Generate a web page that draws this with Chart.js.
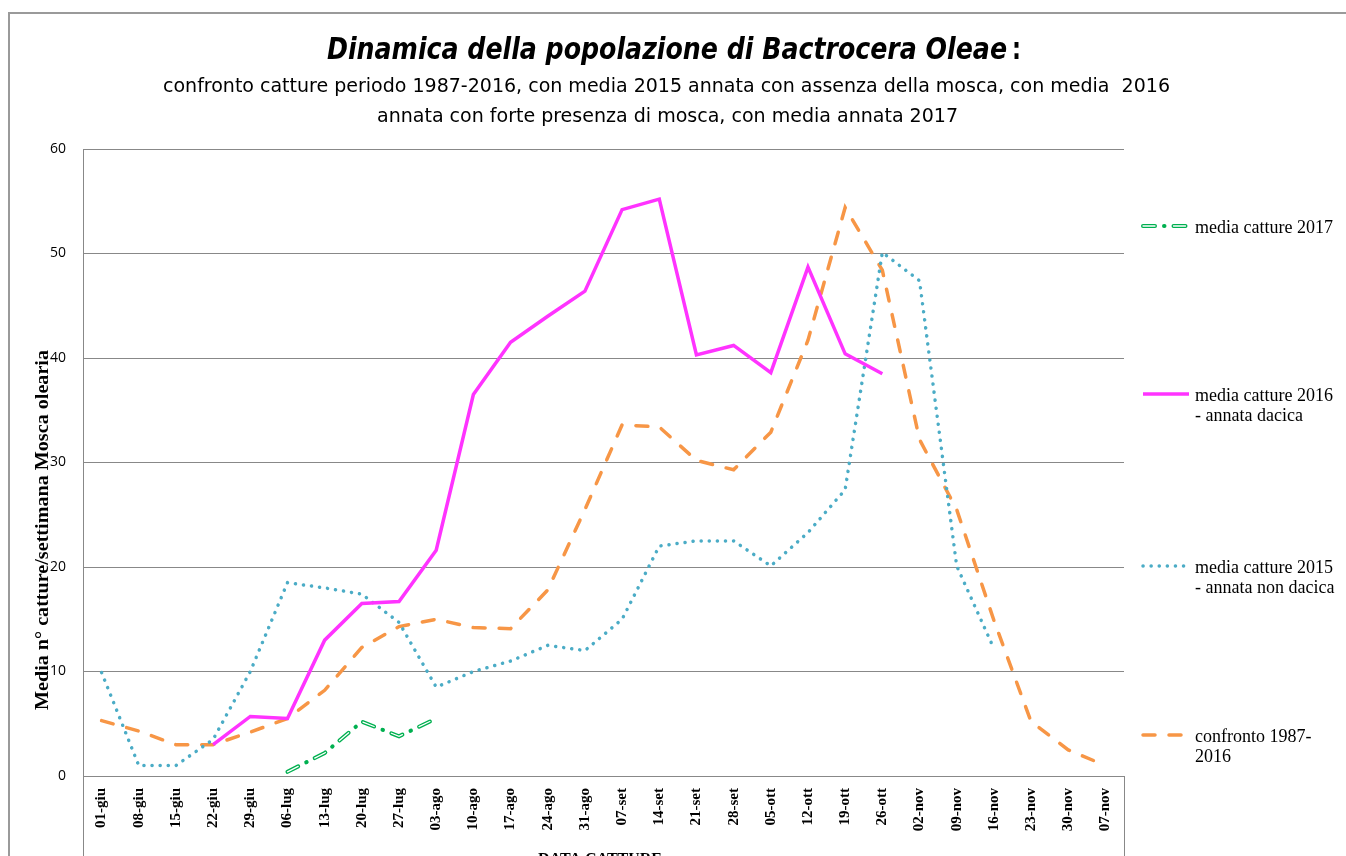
<!DOCTYPE html>
<html>
<head>
<meta charset="utf-8">
<script src="https://cdn.jsdelivr.net/npm/chart.js@4.4.1/dist/chart.umd.min.js"></script>
<style>
  html, body { margin: 0; padding: 0; background: #fff; }
  #wrap { position: relative; width: 1346px; height: 856px; }
</style>
</head>
<body>
<div id="wrap"><canvas id="mosca" width="1346" height="856"></canvas></div>
<script>
// weekly dates (x axis)
var settimane = ['01-giu','08-giu','15-giu','22-giu','29-giu','06-lug','13-lug','20-lug','27-lug',
  '03-ago','10-ago','17-ago','24-ago','31-ago','07-set','14-set','21-set','28-set',
  '05-ott','12-ott','19-ott','26-ott','02-nov','09-nov','16-nov','23-nov','30-nov','07-nov'];

// average catches per week
var media2017 = [null,null,null,null,null,0.4,2.2,5.2,3.8,5.5,
  null,null,null,null,null,null,null,null,null,null,null,null,null,null,null,null,null,null];
var media2016 = [null,null,null,3.0,5.7,5.5,13.0,16.5,16.7,21.6,36.5,41.5,44.0,46.4,54.2,55.2,
  40.3,41.2,38.6,48.7,40.4,38.5,null,null,null,null,null,null];
var media2015 = [9.9,1.0,1.0,3.5,10.0,18.5,18.0,17.4,14.7,8.5,10.0,11.0,12.5,12.0,15.0,22.0,
  22.5,22.5,20.1,23.3,27.4,50.1,47.4,20.1,12.2,null,null,null];
var confronto = [5.3,4.3,3.0,3.0,4.2,5.5,8.2,12.3,14.3,15.0,14.2,14.1,17.8,25.5,33.6,33.4,
  30.2,29.3,32.9,41.7,54.4,48.4,32.2,25.5,14.9,5.2,2.5,1.0];

var yTicks = [0, 10, 20, 30, 40, 50, 60];

var serif = '"Liberation Serif", "DejaVu Serif", serif';
var narrow = '"Liberation Sans Narrow", "DejaVu Sans Condensed", "Open Sans", sans-serif';

// stretch text to a given width (the original uses a narrow font)
function fitText(ctx, text, x, y, w, font) {
  ctx.font = font;
  var m = ctx.measureText(text).width;
  ctx.save();
  ctx.translate(x, y);
  ctx.scale(w / m, 1);
  ctx.textAlign = 'left';
  ctx.fillText(text, 0, 0);
  ctx.restore();
}

function strokeSample(ctx, d, y) {
  ctx.save();
  ctx.strokeStyle = d.borderColor;
  ctx.lineWidth = d.borderWidth;
  ctx.lineCap = d.borderCapStyle || 'butt';
  ctx.setLineDash(d.borderDash || []);
  ctx.beginPath();
  ctx.moveTo(1143, y); ctx.lineTo(1189, y);
  ctx.stroke();
  ctx.restore();
}

// titles, frame, axis titles and the spread-out legend
var decor = {
  id: 'decor',
  afterDraw: function(chart) {
    var ctx = chart.ctx, a = chart.chartArea;
    ctx.save();
    ctx.strokeStyle = '#9a9a9a';
    ctx.lineWidth = 2;
    ctx.beginPath();
    ctx.moveTo(9, 856); ctx.lineTo(9, 13); ctx.lineTo(1346, 13);
    ctx.stroke();

    ctx.strokeStyle = '#888';
    ctx.lineWidth = 1;
    ctx.beginPath();
    ctx.moveTo(a.left + 0.5, a.bottom); ctx.lineTo(a.left + 0.5, 856);
    ctx.moveTo(a.right + 0.5, a.bottom); ctx.lineTo(a.right + 0.5, 856);
    ctx.stroke();

    ctx.fillStyle = '#000';
    ctx.textBaseline = 'alphabetic';
    fitText(ctx, 'Dinamica della popolazione di Bactrocera Oleae', 327, 59, 680, 'italic bold 31px ' + narrow);
    fitText(ctx, ':', 1012, 59, 9, 'bold 31px ' + narrow);
    fitText(ctx, 'confronto catture periodo 1987-2016, con media 2015 annata con assenza della mosca, con media  2016', 163, 92, 1007, '20px ' + narrow);
    fitText(ctx, 'annata con forte presenza di mosca, con media annata 2017', 377, 122, 581, '20px ' + narrow);

    // y axis title
    ctx.save();
    ctx.translate(48, 710);
    ctx.rotate(-Math.PI / 2);
    fitText(ctx, 'Media n\u00b0 catture/settimana Mosca olearia', 0, 0, 360, 'bold 18px ' + serif);
    ctx.restore();

    // x axis title (cut off by the picture edge)
    ctx.font = 'bold 16px ' + serif;
    ctx.textAlign = 'center';
    ctx.fillText('DATA CATTURE', 600, 864);

    // legend
    var items = [
      { ds: [0, 4], y: 226, lines: ['media catture 2017'] },
      { ds: [1], y: 394, lines: ['media catture 2016', '- annata dacica'] },
      { ds: [2], y: 566, lines: ['media catture 2015', '- annata non dacica'] },
      { ds: [3], y: 735, lines: ['confronto 1987-', '2016'] }
    ];
    items.forEach(function(it) {
      it.ds.forEach(function(i) { strokeSample(ctx, chart.data.datasets[i], it.y); });
      ctx.fillStyle = '#000';
      ctx.font = '18px ' + serif;
      ctx.textAlign = 'left';
      it.lines.forEach(function(t, k) {
        ctx.fillText(t, 1195, it.y + 7 + k * 20);
      });
    });
    ctx.restore();
  }
};

var ctx = document.getElementById('mosca');
var myChart = new Chart(ctx, {
  type: 'line',
  data: {
    labels: settimane,
    datasets: [{
      label: 'media catture 2017',
      data: media2017,
      borderColor: '#00B050',
      borderWidth: 4,
      borderDash: [12, 9, 0.5, 9],
      borderCapStyle: 'round',
      pointRadius: 0,
      tension: 0,
      order: 0
    }, {
      label: 'media catture 2016 - annata dacica',
      data: media2016,
      borderColor: '#FF33FF',
      borderWidth: 3.5,
      pointRadius: 0,
      tension: 0,
      order: 1
    }, {
      label: 'media catture 2015 - annata non dacica',
      data: media2015,
      borderColor: '#4BACC6',
      borderWidth: 3.5,
      borderDash: [0.1, 8],
      borderCapStyle: 'round',
      pointRadius: 0,
      tension: 0,
      order: 2
    }, {
      label: 'confronto 1987-2016',
      data: confronto,
      borderColor: '#F79646',
      borderWidth: 3.5,
      borderDash: [12, 14],
      borderCapStyle: 'round',
      pointRadius: 0,
      tension: 0,
      order: 3
    }, {
      // white core that makes the 2017 dashes look hollow
      label: '',
      data: media2017,
      borderColor: '#ffffff',
      borderWidth: 1.3,
      borderDash: [12, 18.5],
      borderCapStyle: 'round',
      pointRadius: 0,
      tension: 0,
      order: -1
    }]
  },
  options: {
    responsive: false,
    animation: false,
    layout: { padding: { left: 43, right: 222, top: 149, bottom: 0 } },
    plugins: {
      legend: { display: false },
      title: { display: false },
      tooltip: { enabled: false }
    },
    scales: {
      x: {
        type: 'category',
        offset: true,
        grid: { display: false, drawTicks: false },
        border: { display: true, color: '#888' },
        ticks: {
          autoSkip: false,
          maxRotation: 90,
          minRotation: 90,
          padding: 12,
          color: '#000',
          font: { family: serif, weight: 'bold', size: 15 }
        },
        afterFit: function(s) { s.height = 80; }
      },
      y: {
        min: yTicks[0],
        max: yTicks[yTicks.length - 1],
        afterBuildTicks: function(s) { s.ticks = yTicks.map(function(v) { return { value: v }; }); },
        grid: { color: '#888', drawTicks: false },
        border: { display: true, color: '#888' },
        ticks: {
          padding: 17,
          color: '#000',
          font: { family: '"Open Sans", sans-serif', size: 14 }
        },
        afterFit: function(s) { s.width = 40; }
      }
    }
  },
  plugins: [decor]
});
</script>
</body>
</html>
